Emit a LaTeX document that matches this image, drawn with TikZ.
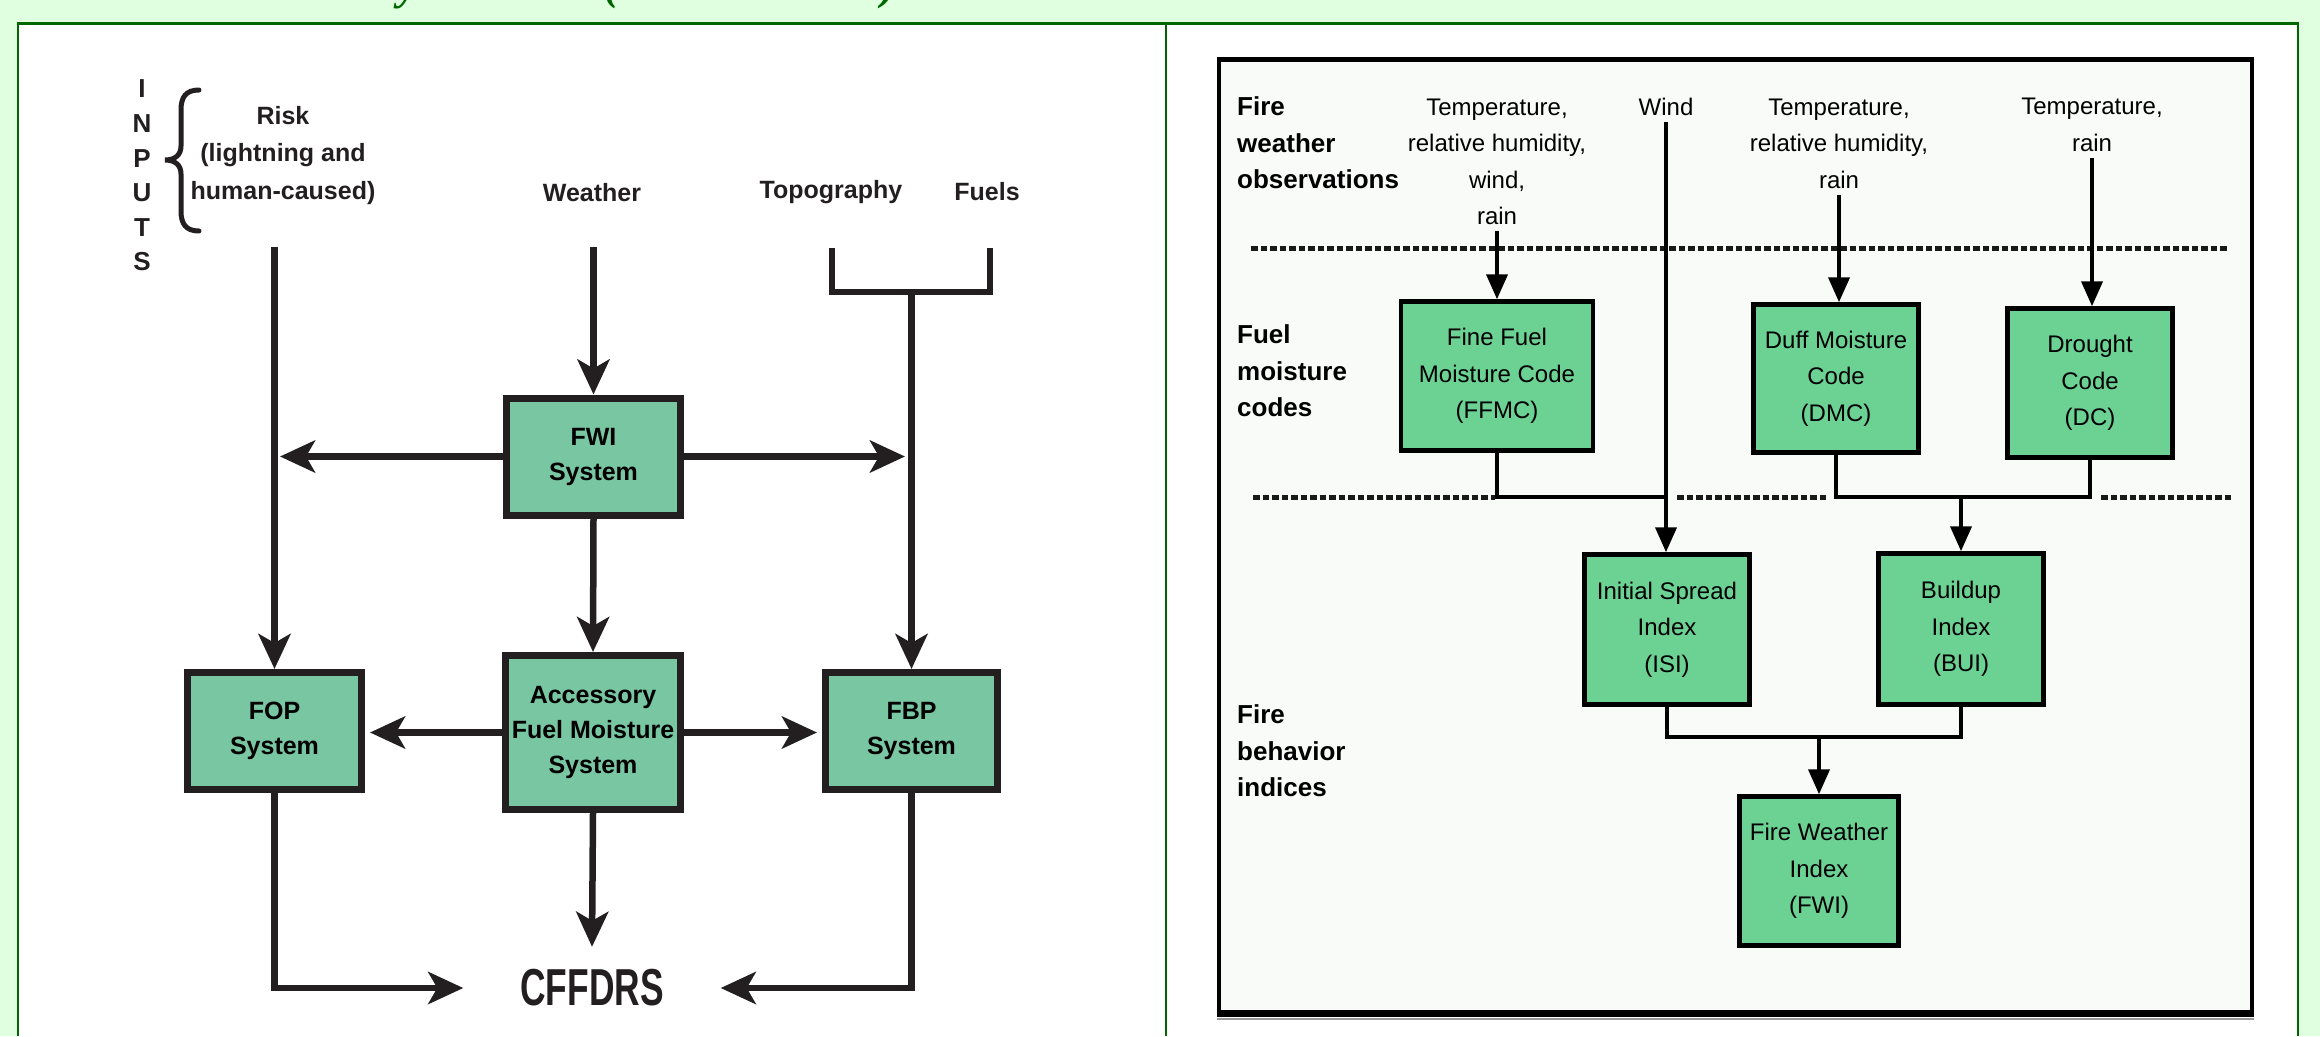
\documentclass[tikz,border=0pt]{standalone}
\usepackage{fontspec}
\setmainfont{Liberation Sans}
\newfontfamily\TitleSerif{Liberation Serif}
\usetikzlibrary{arrows.meta}
\definecolor{pagebg}{HTML}{E0FFE0}
\definecolor{framegreen}{HTML}{006600}
\definecolor{lfill}{HTML}{79C6A2}
\definecolor{lline}{HTML}{231F20}
\definecolor{rfill}{HTML}{6CD294}
\definecolor{rbg}{HTML}{F9FBF9}
\newcommand\LeftFont{\fontsize{25}{35}\selectfont\bfseries}
\newcommand\RightFont{\fontsize{24}{36.5}\selectfont}
\newcommand\RightBold{\fontsize{26}{36.5}\selectfont\bfseries}
\begin{document}
\begin{tikzpicture}[x=1pt,y=-1pt,
  lbox/.style={draw=lline, line width=7pt, fill=lfill, inner sep=0pt, align=center, font=\LeftFont},
  ltext/.style={inner sep=0pt, align=center, text=lline},
  lcon/.style={draw=lline, line width=6.5pt},
  larr/.style={lcon, -{Stealth[length=35pt,width=32pt,inset=9pt]}},
  rbox/.style={draw=black, line width=4.5pt, fill=rfill, inner sep=0pt, align=center, font=\RightFont},
  rtext/.style={inner sep=0pt, align=center, font=\RightFont},
  rlabel/.style={inner sep=0pt, align=left, anchor=west, font=\RightBold},
  rcon/.style={draw=black, line width=4pt},
  rarr/.style={rcon, -{Triangle[length=25pt,width=21pt]}},
  dotline/.style={draw=black!90, line width=5pt, dash pattern=on 6.5pt off 3pt},
  glyph/.style={inner sep=0pt, anchor=base, text=framegreen, font=\fontsize{44}{44}\selectfont\TitleSerif\bfseries\itshape}
]
\useasboundingbox (0,0) rectangle (2320,1036);
\fill[pagebg] (0,0) rectangle (2320,1036);
% title fragments (cut off at the top)
\begin{scope}
\clip (0,0) rectangle (2320,1036);
\node[glyph] (ty) at (408,0) {y};
\node[glyph] (tl) at (612,-1) {(};
\node[glyph] (tr) at (889,-1) {)};
\end{scope}
% table cells
\fill[white] (18,23.5) rectangle (2298,1036);
\draw[framegreen, line width=2.5pt] (18,1036) -- (18,23.5) -- (2298,23.5) -- (2298,1036);
\draw[framegreen, line width=2.5pt] (1166,23.5) -- (1166,1036);

% ================= LEFT PANEL =================
\node[ltext, font=\fontsize{26}{34.6}\selectfont\bfseries] (inputs) at (142,175.5) {I\\N\\P\\U\\T\\S};
\draw[lline, line width=5pt, line cap=round]
  (199,90) .. controls (186,90) and (181,97) .. (181,110) -- (181,146)
  .. controls (181,155) and (175,160) .. (165,160)
  .. controls (175,160) and (181,165) .. (181,174) -- (181,211)
  .. controls (181,224) and (186,231) .. (199,231);
\node[ltext, font=\fontsize{25}{37.5}\selectfont\bfseries] (risk) at (283,155.5) {Risk\\(lightning and\\human-caused)};
\node[ltext, font=\LeftFont] (weather) at (592,193) {Weather};
\node[ltext, font=\LeftFont] (topo) at (831,192) {Topography};
\node[ltext, font=\LeftFont] (fuels) at (987,192) {Fuels};

\node[lbox, minimum width=174pt, minimum height=117pt] (fwi) at (593.5,456.5) {FWI\\System};
\node[lbox, minimum width=174pt, minimum height=117pt] (fop) at (274.5,731) {FOP\\System};
\node[lbox, minimum width=175pt, minimum height=154pt] (acc) at (593,732.5) {Accessory\\Fuel Moisture\\System};
\node[lbox, minimum width=172pt, minimum height=117pt] (fbp) at (911.5,731) {FBP\\System};
\node[ltext, minimum width=257pt, minimum height=82pt, font=\fontsize{52}{52}\selectfont\bfseries] (cffdrs) at (592,988) {\scalebox{0.68}[1]{CFFDRS}};

\coordinate (risktop) at (274.5,247);
\coordinate (weathertop) at (593.5,247);
\coordinate (topoleg) at (832,248);
\coordinate (fuelleg) at (990,248);
\coordinate (brL) at (832,292);
\coordinate (brR) at (990,292);
\coordinate (brC) at (911.5,292);
\coordinate (fwiL) at (280,456.5);
\coordinate (fwiR) at (905,456.5);

\draw[larr] (risktop) -- (fop.north);
\draw[larr] (weathertop) -- (fwi.north);
\draw[lcon] (topoleg) -- (brL) -- (brR) -- (fuelleg);
\draw[larr] (brC) -- (fbp.north);
\draw[larr] (fwi.west) -- (fwiL);
\draw[larr] (fwi.east) -- (fwiR);
\draw[larr] (fwi.south) -- (acc.north);
\draw[larr, shorten >=5pt] (acc.west) -- (acc.west -| fop.east);
\draw[larr, shorten >=5pt] (acc.east) -- (acc.east -| fbp.west);
\draw[larr] (acc.south) -- (cffdrs.north);
\draw[larr] (fop.south) |- (cffdrs.west);
\draw[larr] (fbp.south) |- (cffdrs.east);

% ================= RIGHT PANEL =================
\fill[rbg] (1219,59) rectangle (2252,1013);
\draw[black, line width=4pt] (1219,59) rectangle (2252,1013);
\draw[black, line width=5pt] (1217,59) -- (2254,59);
\draw[black!40, line width=2pt] (1217,1019) -- (2254,1019);
\draw[black, line width=7pt] (1217,1013) -- (2254,1013);

\node[rlabel] (lab1) at (1237,143) {Fire\\weather\\observations};
\node[rlabel] (lab2) at (1237,371) {Fuel\\moisture\\codes};
\node[rlabel] (lab3) at (1237,751) {Fire\\behavior\\indices};

\node[rtext] (in1) at (1497,162) {Temperature,\\relative humidity,\\wind,\\rain};
\node[rtext] (wind) at (1666,107) {Wind};
\node[rtext] (in3) at (1839,143.5) {Temperature,\\relative humidity,\\rain};
\node[rtext] (in4) at (2092,125) {Temperature,\\rain};

\draw[dotline] (1251,248) -- (2228,248);
\draw[dotline] (1253,497) -- (1495,497);
\draw[dotline] (1677,497) -- (1828,497);
\draw[dotline] (2101,497) -- (2231,497);

\node[rbox, minimum width=192pt, minimum height=149pt] (ffmc) at (1497,376) {Fine Fuel\\Moisture Code\\(FFMC)};
\node[rbox, minimum width=165pt, minimum height=148pt] (dmc) at (1836,378.5) {Duff Moisture\\Code\\(DMC)};
\node[rbox, minimum width=165pt, minimum height=149pt] (dc) at (2090,383) {Drought\\Code\\(DC)};
\node[rbox, minimum width=165pt, minimum height=150pt] (isi) at (1667,629.5) {Initial Spread\\Index\\(ISI)};
\node[rbox, minimum width=165pt, minimum height=151pt] (bui) at (1961,629) {Buildup\\Index\\(BUI)};
\node[rbox, minimum width=159pt, minimum height=149pt] (fwix) at (1819,871) {Fire Weather\\Index\\(FWI)};

\coordinate (wj) at (1667,497);
\coordinate (fj) at (1819,737);

\draw[rarr, shorten <=6pt] (in1.south) -- (in1.south |- ffmc.north);
\draw[rarr, shorten <=6pt] (wind.south) -- (wind.south |- isi.north);
\draw[rarr, shorten <=6pt] (in3.south) -- (in3.south |- dmc.north);
\draw[rarr, shorten <=6pt] (in4.south) -- (in4.south |- dc.north);
\draw[rcon] (ffmc.south) |- (wj);
\draw[rcon] (dmc.south) |- (dc.south |- wj) -- (dc.south);
\draw[rarr] (bui.north |- wj) -- (bui.north);
\draw[rcon] (isi.south) |- (fj) -| (bui.south);
\draw[rarr] (fj) -- (fwix.north);
\end{tikzpicture}
\end{document}
